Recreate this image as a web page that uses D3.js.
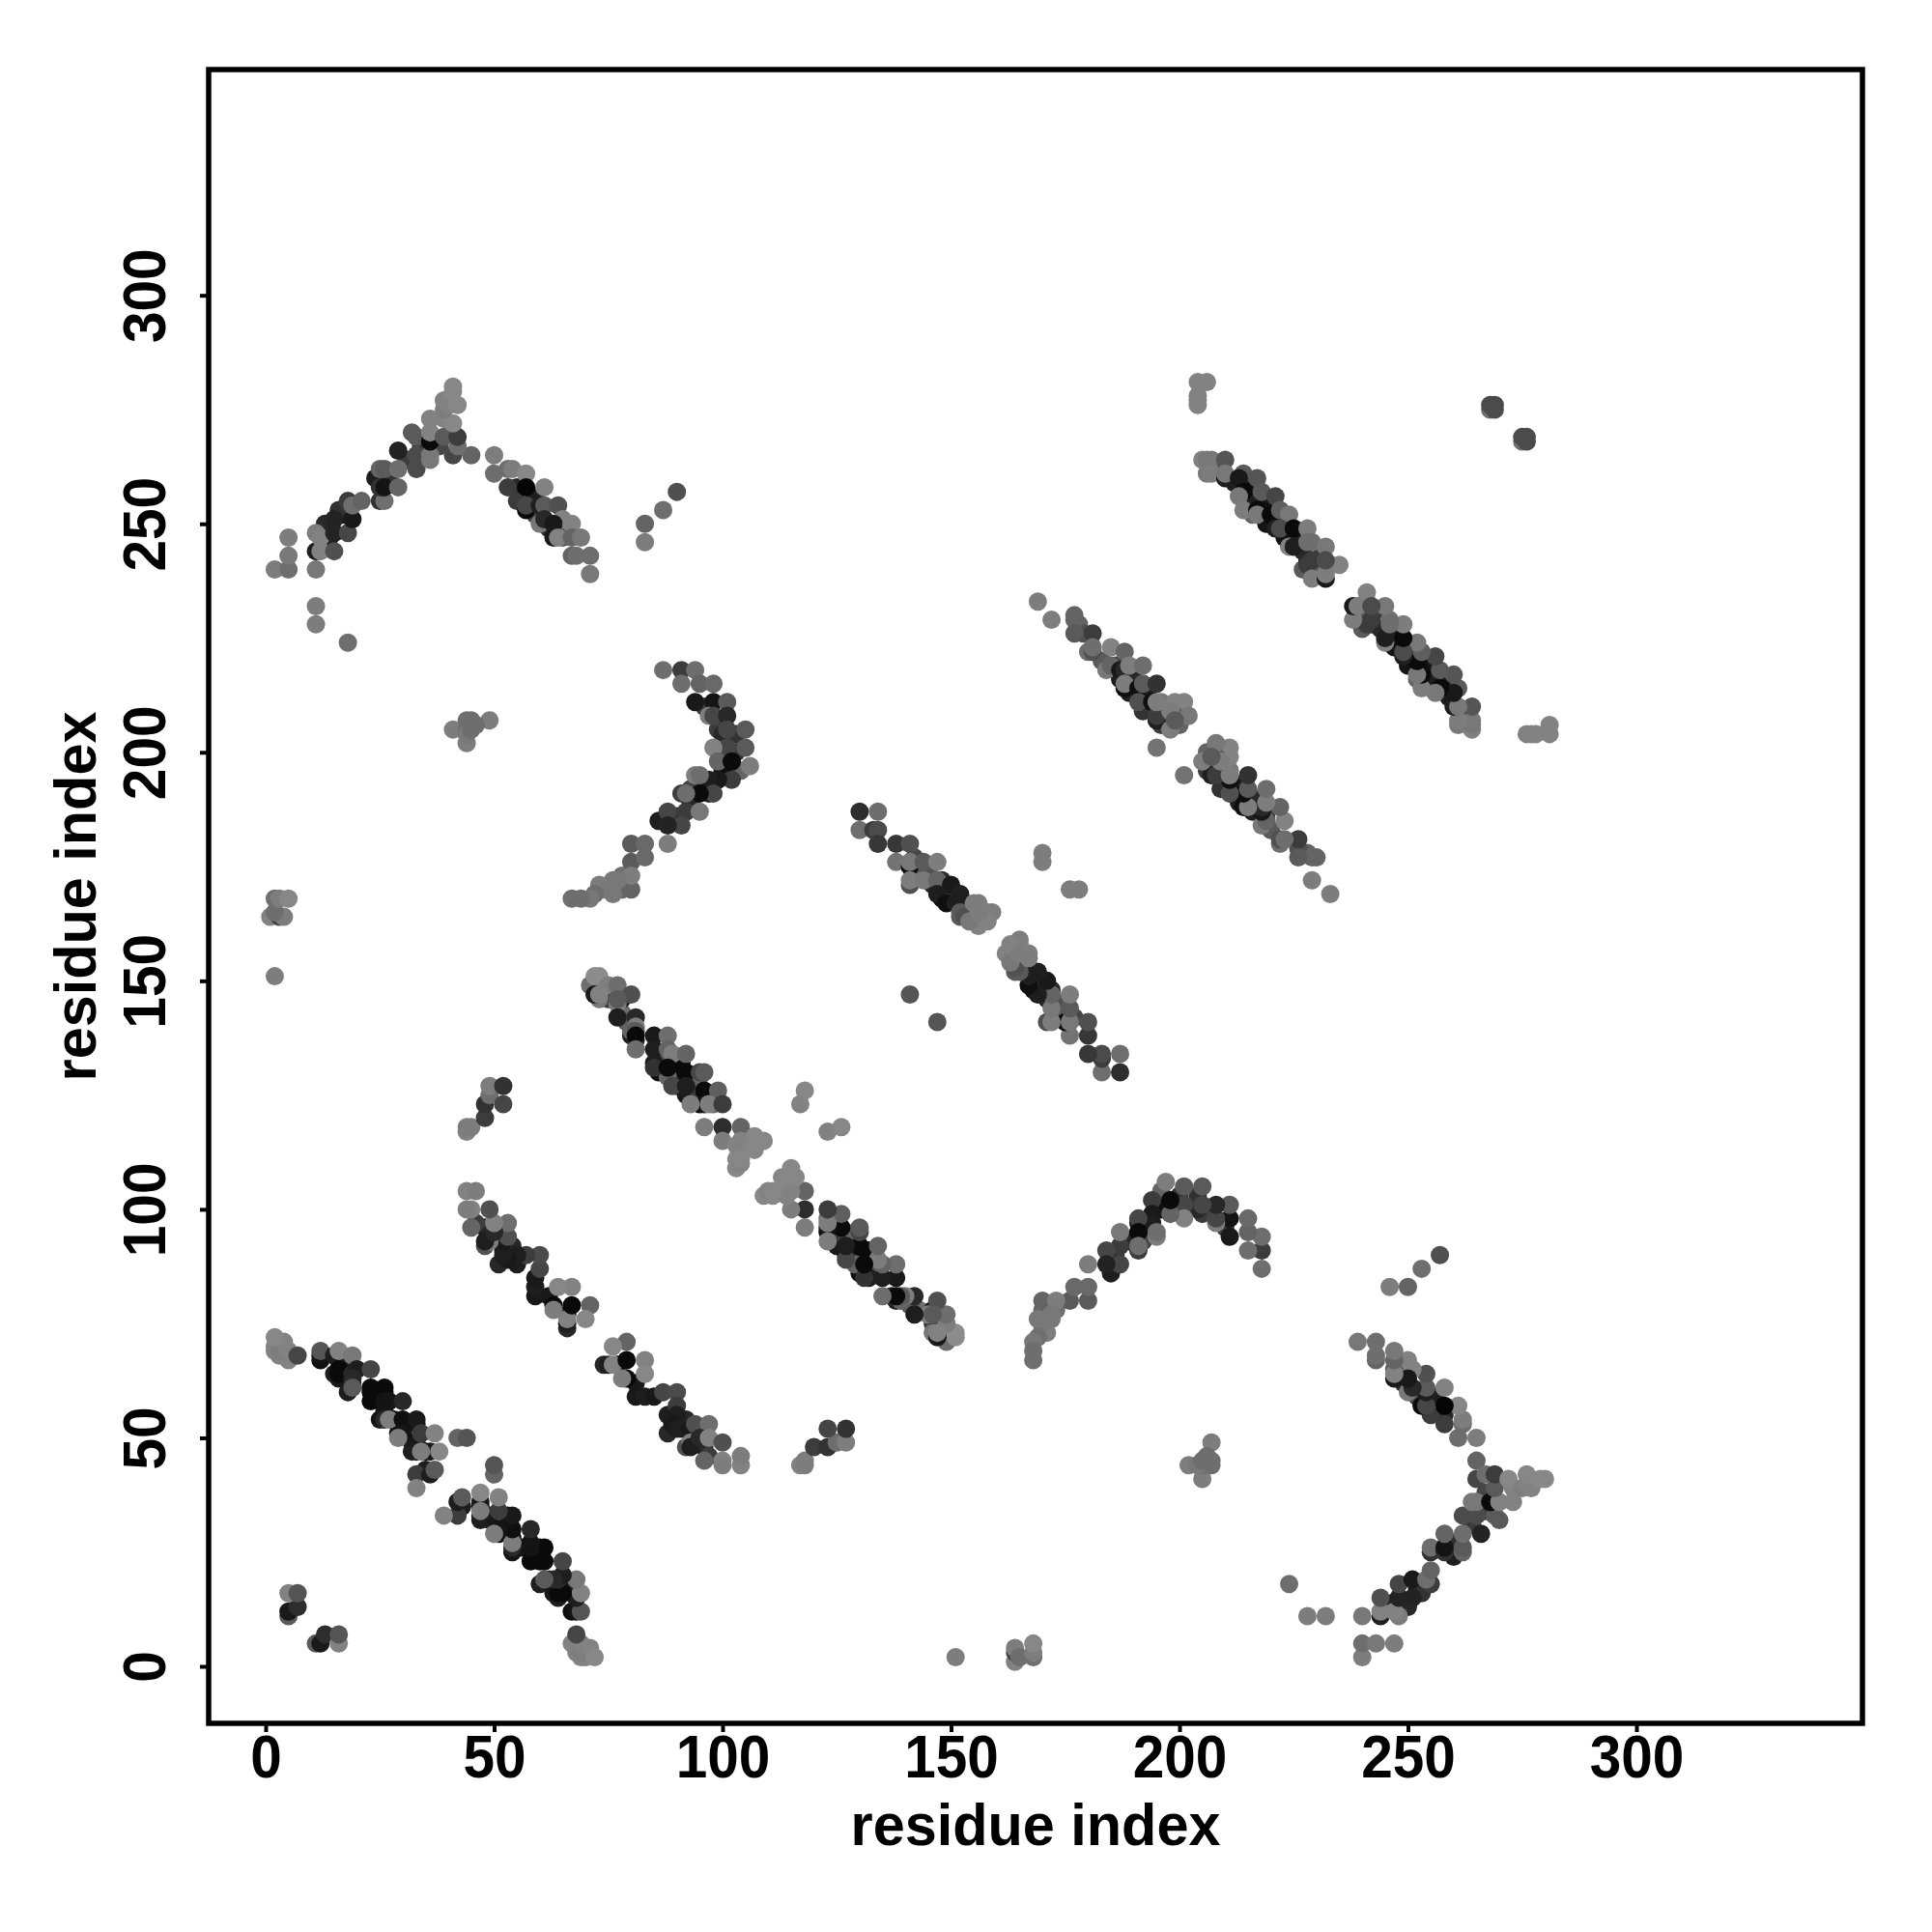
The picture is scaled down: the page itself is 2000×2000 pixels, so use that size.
<!DOCTYPE html>
<html><head><meta charset="utf-8">
<script src="https://cdn.jsdelivr.net/npm/d3@7/dist/d3.min.js"></script>
<style>html,body{margin:0;padding:0;background:#fff}svg{display:block}text{font-family:"Liberation Sans",Arial,sans-serif;font-weight:bold;fill:#000}</style>
</head><body><div id="c"></div>
<script>
// contacts: [residue i, residue j, grey level]; the map is symmetric so each is drawn at (i,j) and (j,i)
const axisTicks=[0,50,100,150,200,250,300];
const axisTitle="residue index";
const underlying=[[18,63,20],[17,66,30],[18,60,30],[25,59,15],[25,54,20],[28,54,15],[29,51,15],[32,49,25],[32,47,30],[35,47,20],[35,43,30],[33,53,20],[33,49,25],[29,53,20],[26,56,20],[26,60,15],[23,60,15],[19,62,40],[16,63,25],[16,67,30],[12,67,15],
[66,74,40],[66,77,20],[62,81,25],[59,81,25],[55,88,30],[51,88,40],[52,91,20],[54,92,40],[48,96,30],[49,95,40],[48,92,80],
[86,133,30],[86,130,15],[90,129,60],[90,127,40],[94,127,30],[94,128,80],[91,130,20],[98,123,110],[95,123,10],[74,148,120],[75,147,100],[76,146,80],[78,143,110],[79,141,90],[80,138,30],[92,129,30],[91,132,10],[87,130,15],[88,133,80],[88,129,100],[92,125,25],[95,125,60],[95,129,100],[85,132,30],[81,137,40],[78,146,30],[75,146,60],[74,147,30],[74,149,130],
[148,170,15],[150,168,20],[148,168,15],[146,171,40],[149,170,60],[143,173,100],[145,174,80],[148,172,40],[153,167,90],[142,177,70],
[183,220,90],[186,219,60],[187,216,30],[190,216,40],[189,213,30],[193,213,30],[192,209,50],[196,206,60],[197,207,70],[200,206,100],[197,209,110],[178,228,100],[179,226,80],
[208,263,100],[212,259,30],[215,258,15],[216,256,30],[219,254,20],[216,252,100],[219,250,20],[223,250,20],[223,247,20],[226,247,30],[227,244,40],[227,240,90],[230,240,90],[231,243,60],[209,262,40],
[14,247,30],[13,250,40],[17,252,20],[16,253,50],[24,260,30],[27,260,50],[31,264,60],[34,267,60],[38,267,70],[55,258,40],[55,255,60],[59,256,30],[59,252,70],[62,249,40],[64,250,110],[65,247,90],
[96,210,60],[99,205,60],[100,204,40],[103,204,50],[100,198,30],[100,196,15],[96,192,15],[97,191,30],[93,189,40],[93,192,70],[90,186,50],[86,185,30],[78,173,110],[78,170,100],[74,170,120],[103,200,50],[104,196,100]];
const bandA=[[2,69,130],[3,68,130],[5,67,130],[2,70,130],[3,69,125],[5,69,130],[4,71,130],[2,72,135],[7,68,70],[12,68,20],[12,69,85],[15,68,30],[16,69,130],[19,68,120],[15,64,30],[16,65,10],[16,64,10],[19,64,40],[20,65,30],[23,65,70],[19,63,40],[19,61,90],[23,61,10],[26,61,10],[23,58,10],[26,58,20],[27,58,20],[30,58,40],[26,54,40],[27,54,125],[30,54,15],[33,54,25],[30,51,20],[29,50,125],[34,51,60],[37,51,130],[33,47,30],[36,47,25],[34,47,125],[38,47,135],[33,42,60],[36,42,30],[37,43,90],[33,39,130],[42,50,100],[44,50,85]];
const nearOrigin=[[5,11,90],[5,12,25],[7,13,45],[5,16,130],[7,16,85],[1,164,130],[3,164,70],[4,164,125],[2,165,110],[2,168,110],[3,168,125],[5,168,135],[2,151,125]];
const bandB=[[71,79,100],[70,76,135],[66,75,30],[66,76,130],[67,79,10],[67,83,130],[63,79,10],[63,78,125],[64,83,135],[59,83,30],[59,85,25],[60,87,70],[60,90,75],[57,90,60],[55,90,30],[53,89,25],[52,90,30],[52,93,25],[53,94,80],[53,97,110],[49,93,125],[48,93,30],[50,95,40],[50,97,130],[46,97,60],[49,100,80],[45,96,100],[45,100,130],[44,100,125],[44,104,130],[46,104,125]];
const bandC=[[71,149,110],[72,151,140],[73,151,140],[73,146,120],[72,147,25],[75,149,125],[77,149,110],[73,147,130],[80,147,80],[77,145,125],[77,146,90],[77,142,30],[81,142,40],[81,140,125],[80,139,100],[81,139,90],[81,138,10],[81,135,110],[85,138,25],[88,138,110],[85,135,30],[85,131,50],[88,135,100],[89,134,125],[92,134,100],[88,131,10],[92,130,10],[95,130,70],[96,130,90],[89,127,70],[92,127,30],[96,126,10],[99,126,95],[96,123,20],[93,123,125],[97,123,125],[100,123,60],[96,118,125],[100,118,45],[104,118,100],[100,115,125],[104,115,130],[107,116,135],[109,115,135],[107,113,135],[104,113,135],[103,111,135],[103,109,135],[104,110,130],[103,114,130],[104,111,135],[117,123,130],[118,126,135],[141,147,85]];
const bandG=[[130,187,45],[134,187,110],[130,183,110],[133,183,60],[134,183,75],[134,180,55],[138,180,55],[141,180,80],[138,176,115],[141,175,15],[141,176,120],[141,171,80],[141,172,125],[144,176,90],[147,176,125],[144,172,120],[147,172,100],[150,171,25],[152,169,30],[147,169,30],[149,167,15],[151,167,30],[152,164,90],[152,165,90],[153,164,80],[155,167,125],[156,167,125],[158,165,130],[159,165,125],[156,162,130],[158,163,130],[154,163,120],[156,165,125],[170,176,125],[170,178,125]];
const bandJ=[[169,233,125],[172,229,125],[177,229,100],[177,230,100],[177,226,90],[181,226,60],[180,222,110],[181,222,80],[181,223,110],[185,223,130],[188,222,100],[184,218,120],[185,219,100],[187,218,25],[188,218,40],[189,219,125],[192,219,110],[188,214,15],[188,215,125],[191,214,15],[192,215,90],[195,215,50],[191,211,80],[194,211,15],[196,211,120],[199,211,130],[201,211,130],[195,207,30],[195,208,60],[199,208,90],[202,208,120],[198,205,125],[198,209,125],[199,207,90],[195,211,125],[195,201,115]];
const bandH=[[204,276,130],[204,277,130],[204,278,130],[204,281,130],[206,281,130],[268,275,110],[269,275,75],[268,276,75],[269,276,75],[206,261,120],[205,264,130],[206,264,120],[207,264,120],[210,264,85],[207,261,125],[210,260,30],[210,261,120],[214,261,90],[213,260,25],[217,260,85],[214,257,10],[218,257,90],[221,256,70],[213,256,120],[214,253,125],[217,253,10],[217,252,120],[220,252,10],[222,253,95],[224,252,120],[221,249,30],[222,249,75],[225,249,10],[228,249,125],[224,245,130],[225,245,30],[228,246,110],[229,246,110],[232,245,120],[228,242,40],[229,242,60],[228,241,60],[233,241,125],[235,241,130],[229,238,125],[232,238,25],[232,239,125],[232,242,75]];
const arcD=[[2,240,125],[5,240,110],[5,243,120],[5,247,125],[11,240,120],[11,244,30],[12,244,130],[11,248,125],[12,247,130],[15,244,80],[15,248,35],[18,248,70],[15,251,35],[19,251,25],[18,255,60],[19,254,110],[21,255,100],[25,255,50],[26,255,110],[25,258,50],[26,258,20],[29,258,100],[25,262,100],[26,262,90],[29,262,110],[33,262,75],[29,266,35],[33,265,75],[36,264,120],[36,265,120],[32,270,90],[33,269,90],[36,268,10],[36,270,130],[36,273,130],[39,273,130],[39,269,90],[41,265,70],[45,265,100],[42,267,110],[42,269,60],[41,272,135],[39,275,125],[39,277,130],[40,276,130],[42,276,135],[41,279,135],[41,280,135],[11,232,125],[11,228,125],[18,224,110]];
const arcDRight=[[50,265,125],[50,261,110],[53,262,110],[54,262,125],[57,261,135],[53,258,60],[57,258,5],[57,253,10],[57,254,70],[61,258,130],[60,254,30],[61,254,90],[64,254,80],[60,250,120],[61,251,40],[65,251,130],[63,250,25],[67,250,130],[63,247,25],[64,247,130],[67,247,100],[69,247,120],[67,243,100],[68,243,110],[71,243,110],[71,239,120],[83,250,100],[83,246,125],[87,253,110],[90,257,80]];
const arcF=[[87,218,110],[91,218,60],[94,218,110],[91,215,110],[95,215,100],[98,215,105],[94,211,25],[98,211,20],[101,211,90],[97,208,125],[98,208,70],[101,208,40],[101,205,70],[105,205,90],[105,201,90],[101,201,70],[98,201,130],[99,198,100],[102,198,10],[106,197,125],[102,194,60],[99,194,25],[97,194,30],[94,195,125],[95,195,110],[98,191,70],[95,191,10],[91,191,60],[92,191,110],[92,187,60],[95,187,120],[91,184,70],[88,187,70],[88,184,35],[88,180,125],[80,180,90],[83,180,105],[80,176,90],[83,177,105],[80,170,100],[80,173,125],[76,169,120],[76,172,120],[77,172,120],[73,171,125],[75,170,120],[72,169,110],[71,168,120],[69,168,110],[67,168,110]];
const smallClusters=[[41,205,125],[44,207,110],[49,207,125],[44,202,125],[44,205,110],[45,207,110],[44,204,120],[45,205,110],[46,206,110],[44,117,130],[44,118,125],[45,118,125],[48,120,60],[48,123,50],[49,125,110],[49,127,125],[52,123,70],[52,127,50]];

const contacts=[underlying,bandA,nearOrigin,bandB,bandC,bandG,bandJ,bandH,arcD,arcDRight,arcF,smallClusters].flat();
const points=contacts.flatMap(([i,j,g])=>[{x:i,y:j,g},{x:j,y:i,g}]);

const W=2000,H=2000;
const x=d3.scaleLinear().domain([0,300]).range([275,1694]);
const y=d3.scaleLinear().domain([0,300]).range([1725,305.7]);
const frame={l:216,r:1928,t:72,b:1784};
const svg=d3.select("#c").append("svg").attr("width",W).attr("height",H);
svg.append("rect").attr("width",W).attr("height",H).attr("fill","#fff");

svg.append("g").selectAll("circle").data(points).join("circle")
  .attr("cx",d=>x(d.x)).attr("cy",d=>y(d.y)).attr("r",9.5)
  .attr("fill",d=>`rgb(${d.g},${d.g},${d.g})`);

const ax=svg.append("g").attr("transform",`translate(0,${frame.b})`)
  .call(d3.axisBottom(x).tickValues(axisTicks).tickSize(9).tickPadding(0).tickFormat(d3.format("d")));
const ay=svg.append("g").attr("transform",`translate(${frame.l},0)`)
  .call(d3.axisLeft(y).tickValues(axisTicks).tickSize(9).tickFormat(d3.format("d")));
[ax,ay].forEach(a=>{a.select(".domain").remove();a.selectAll("line").attr("stroke","#000").attr("stroke-width",4);});
ax.selectAll("text").attr("font-size",61).attr("text-anchor","middle").attr("y",0).attr("dy",0)
  .attr("transform","translate(0,56) scale(.96,1.04)");
ay.selectAll("text").attr("font-size",61).attr("text-anchor","middle").attr("dy",0).attr("x",0).attr("y",0)
  .attr("transform","translate(-45,0) rotate(-90) scale(.96,1.04)");

svg.append("rect").attr("x",frame.l).attr("y",frame.t).attr("width",frame.r-frame.l).attr("height",frame.b-frame.t)
  .attr("fill","none").attr("stroke","#000").attr("stroke-width",5.5);

svg.append("text").attr("transform","translate(1072,1910) scale(.99,1.03)").attr("text-anchor","middle").attr("font-size",60).text(axisTitle);
svg.append("text").attr("transform","translate(99,928) rotate(-90) scale(.99,1.03)").attr("text-anchor","middle").attr("font-size",60).text(axisTitle);
</script></body></html>
